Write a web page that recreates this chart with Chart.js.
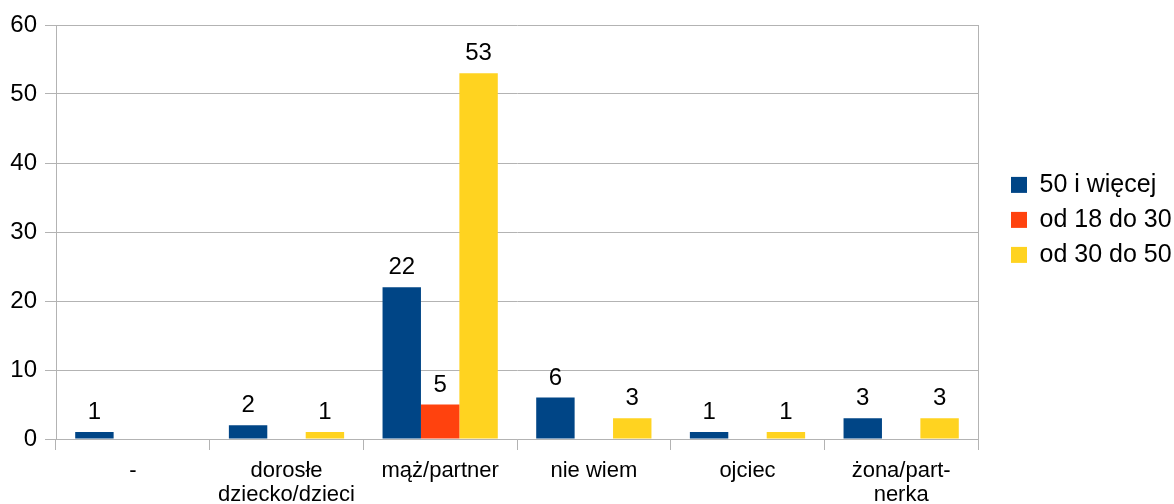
<!DOCTYPE html>
<html>
<head>
  <meta charset="utf-8">
  <title>Relacja wg wieku</title>
  <script src="https://cdn.jsdelivr.net/npm/chart.js"></script>
  <style>
    body { margin: 0; background: #fff; }
    .chart-container { width: 1174px; height: 504px; }
  </style>
</head>
<body>
  <div class="chart-container"><canvas id="myChart"></canvas></div>
  <script>
    const categories = ['-', ['dorosłe', 'dziecko/dzieci'], 'mąż/partner', 'nie wiem', 'ojciec', ['żona/part-', 'nerka']];
    const seriesNames = ['50 i więcej', 'od 18 do 30', 'od 30 do 50'];
    const over50 = [1, 2, 22, 6, 1, 3];
    const from18to30 = [null, null, 5, null, null, null];
    const from30to50 = [null, 1, 53, 3, 1, 3];
    const yTicks = [0, 10, 20, 30, 40, 50, 60];

    const gridColor = '#b3b3b3';
    const font = 'Liberation Sans';

    // numbers above bars
    const valueLabels = {
      id: 'valueLabels',
      afterDatasetsDraw(chart) {
        const ctx = chart.ctx;
        ctx.save();
        ctx.font = '24px "' + font + '"';
        ctx.fillStyle = '#000';
        ctx.textAlign = 'center';
        ctx.textBaseline = 'alphabetic';
        chart.data.datasets.forEach((ds, i) => {
          chart.getDatasetMeta(i).data.forEach((bar, j) => {
            if (ds.data[j] == null) return;
            ctx.fillText(ds.data[j], bar.x, bar.y - 13);
          });
        });
        ctx.restore();
      }
    };

    const ctx = document.getElementById('myChart').getContext('2d');
    const chart = new Chart(ctx, {
      type: 'bar',
      data: {
        labels: categories,
        datasets: [
          { label: seriesNames[0], data: over50, backgroundColor: '#004586' },
          { label: seriesNames[1], data: from18to30, backgroundColor: '#ff420e' },
          { label: seriesNames[2], data: from30to50, backgroundColor: '#ffd320' }
        ]
      },
      options: {
        responsive: true,
        maintainAspectRatio: false,
        animation: false,
        categoryPercentage: 0.75,
        barPercentage: 1.0,
        layout: { padding: { top: 25, left: 0, right: 0, bottom: 0 } },
        plugins: {
          tooltip: { enabled: false },
          legend: {
            position: 'right',
            align: 'start',
            maxWidth: 173,
            title: { display: true, text: '', font: { size: 12 }, padding: { top: 123, bottom: 0 } },
            labels: {
              boxWidth: 16,
              boxHeight: 16,
              padding: 10,
              color: '#000',
              font: { family: font, size: 25 }
            }
          }
        },
        scales: {
          x: {
            grid: { drawOnChartArea: false, tickLength: 11, tickColor: gridColor, color: gridColor },
            border: { color: gridColor },
            ticks: { color: '#000', padding: 9, maxRotation: 0, autoSkip: false, font: { family: font, size: 22, lineHeight: 1.1 } },
            afterFit(s) { s.height = 65; }
          },
          y: {
            min: yTicks[0],
            max: yTicks[yTicks.length - 1],
            afterBuildTicks(s) { s.ticks = yTicks.map(v => ({ value: v })); },
            grid: { color: gridColor, tickLength: 11, tickColor: gridColor },
            border: { color: gridColor },
            ticks: { color: '#000', padding: 8, font: { family: font, size: 24 } },
            afterFit(s) { s.width = 56; }
          },
          y2: {
            position: 'right',
            display: true,
            grid: { display: false },
            ticks: { display: false },
            border: { display: true, color: gridColor },
            afterFit(s) { s.width = 23; }
          }
        }
      },
      plugins: [valueLabels]
    });
  </script>
</body>
</html>
